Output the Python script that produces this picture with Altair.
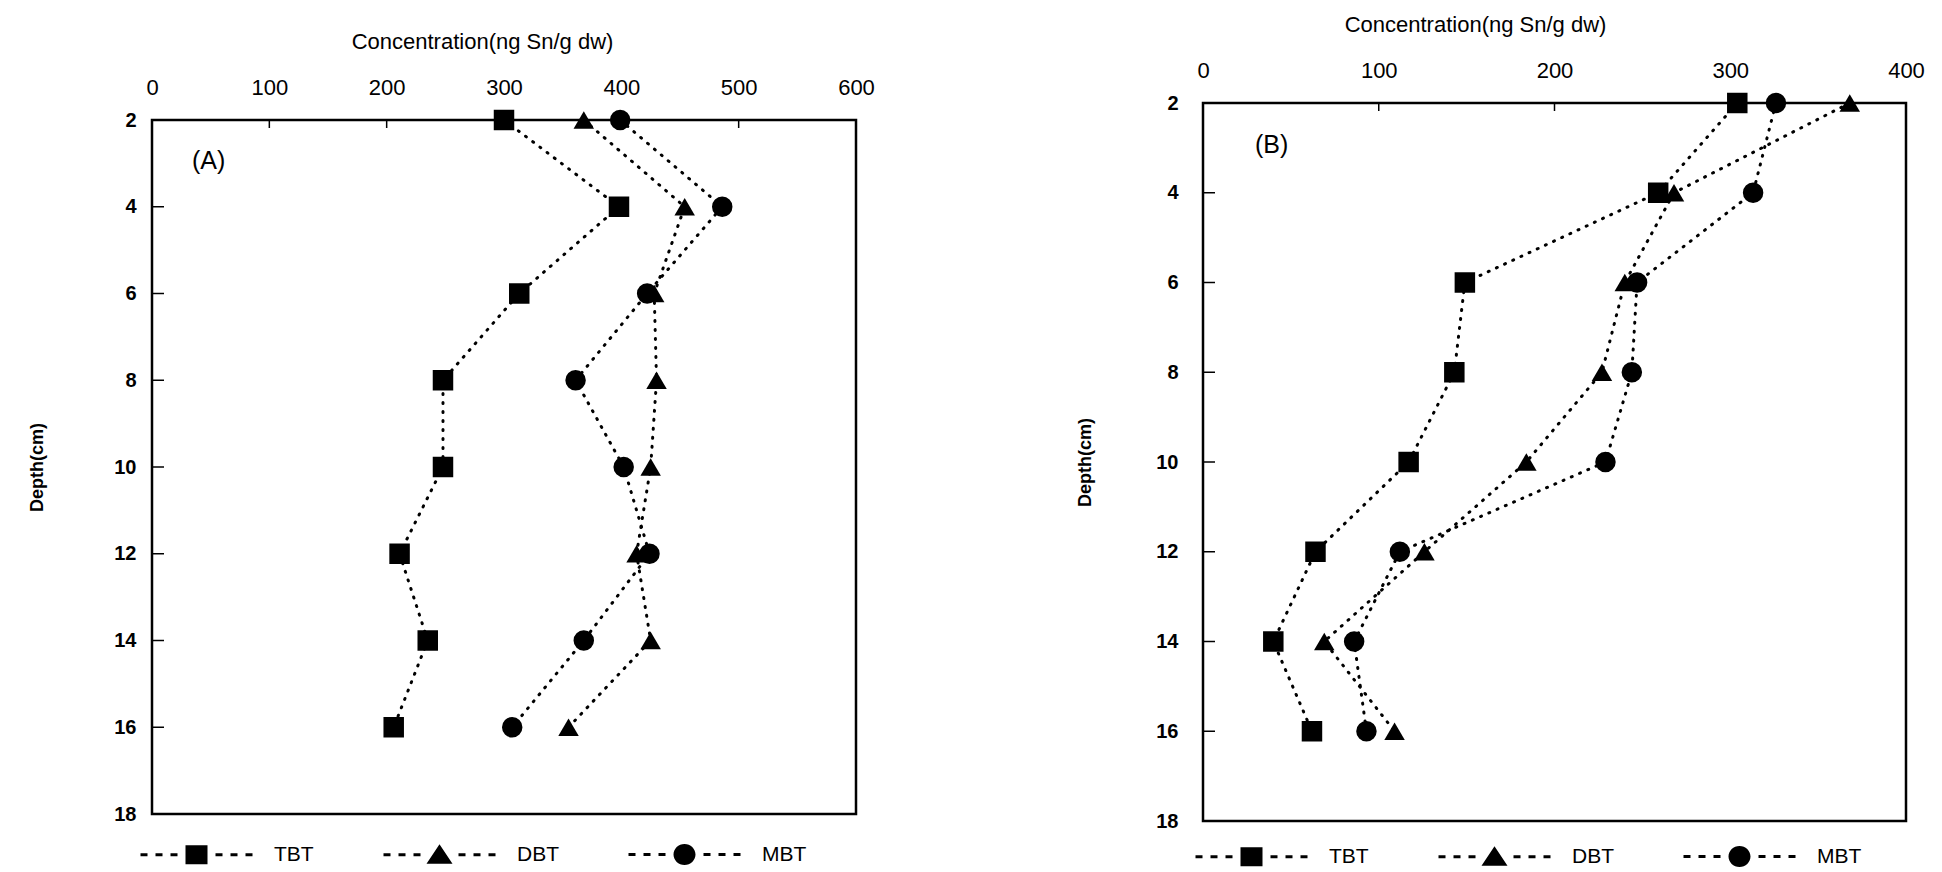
import altair as alt
import pandas as pd

# ---------------- data ----------------
depths = [2, 4, 6, 8, 10, 12, 14, 16]
series_names = ["TBT", "DBT", "MBT"]

a_tbt = [300, 398, 313, 248, 248, 211, 235, 206]
a_dbt = [368, 454, 428, 430, 425, 413, 425, 355]
a_mbt = [399, 486, 422, 361, 402, 424, 368, 307]

b_tbt = [304, 259, 149, 143, 117, 64, 40, 62]
b_dbt = [368, 268, 240, 227, 184, 126, 69, 109]
b_mbt = [326, 313, 247, 244, 229, 112, 86, 93]

depth_ticks = [2, 4, 6, 8, 10, 12, 14, 16, 18]
a_conc_ticks = [0, 100, 200, 300, 400, 500, 600]
b_conc_ticks = [0, 100, 200, 300, 400]
panel_labels = ["(A)", "(B)"]
x_title = "Concentration(ng Sn/g dw)"
y_title = "Depth(cm)"

FONT = "Liberation Sans"


def long_df(tbt, dbt, mbt):
    rows = []
    for name, vals in zip(series_names, [tbt, dbt, mbt]):
        for d, v in zip(depths, vals):
            rows.append({"series": name, "depth": d, "conc": v})
    return pd.DataFrame(rows)


# legend symbols: dashes - marker - dashes (custom paths, unit coords)
def rect(x0, x1, t=0.15):
    return f"M{x0},{-t}H{x1}V{t}H{x0}Z"

dash_left = [(-5.6, -4.9), (-4.1, -3.4), (-2.6, -1.9)]
dash_right = [(1.9, 2.6), (3.4, 4.1), (4.9, 5.6)]
dashes = "".join(rect(a, b) for a, b in dash_left + dash_right)
sym_square = "M-1.1,-0.95H1.1V0.95H-1.1Z"
sym_tri = "M0,-1.05L1.3,0.9L-1.3,0.9Z"
sym_circle = "M1.1,0A1.1,1.05 0 1,1 -1.1,0A1.1,1.05 0 1,1 1.1,0Z"
legend_shapes = [dashes + sym_square, dashes + sym_tri, dashes + sym_circle]


def panel(df, xticks, w, h, top_off, label, lab_x, lab_y, leg_x, leg_off,
          ylab_pad, ytitle_pad, title_x):
    xmax = xticks[-1]
    xscale = alt.Scale(domain=[xticks[0], xmax], nice=False, zero=True)
    yscale = alt.Scale(domain=[depth_ticks[0], depth_ticks[-1]], range=[top_off, top_off + h],
                       nice=False, zero=False)
    axis_kw = dict(
        orient="top", values=xticks, title=x_title, ticks=False, domain=False, grid=False,
        labelFontSize=22, labelPadding=21, titleFontSize=22, titleFontWeight="normal",
        titlePadding=23, labelColor="black", titleColor="black", labelFont=FONT, titleFont=FONT,
        labelFlush=False, titleX=title_x, titleAlign="center",
    )
    if top_off > 0:
        axis_kw["offset"] = -top_off
    xaxis = alt.Axis(**axis_kw)
    yaxis = alt.Axis(
        values=depth_ticks, title=y_title, ticks=False, domain=False, grid=False,
        labelFontSize=20, labelFontWeight="bold", labelPadding=ylab_pad,
        titleFontSize=18, titleFontWeight="bold", titlePadding=ytitle_pad,
        labelColor="black", titleColor="black", labelFont=FONT, titleFont=FONT,
        labelFlush=False,
    )

    def X(field):
        return alt.X(field, scale=xscale, axis=xaxis)

    def Y(field):
        return alt.Y(field, scale=yscale, axis=yaxis)

    frame_df = pd.DataFrame({"x0": [xticks[0]], "x1": [xmax],
                             "y0": [depth_ticks[0]], "y1": [depth_ticks[-1]]})
    frame = alt.Chart(frame_df).mark_rect(
        fillOpacity=0, stroke="black", strokeWidth=2.5
    ).encode(x=X("x0:Q"), x2="x1:Q", y=Y("y0:Q"), y2="y1:Q")

    base = alt.Chart(df)
    lines = base.mark_line(
        color="black", strokeWidth=3, strokeDash=[1, 8], strokeCap="round"
    ).encode(
        x=X("conc:Q"), y=Y("depth:Q"), detail="series:N", order="depth:Q"
    )
    points = base.mark_point(filled=True, color="black", opacity=1, size=420).encode(
        x=X("conc:Q"),
        y=Y("depth:Q"),
        shape=alt.Shape(
            "series:N",
            scale=alt.Scale(domain=series_names, range=["square", "triangle-up", "circle"]),
            legend=None,
        ),
    )
    legend_layer = base.mark_point(filled=True, color="black", opacity=0, size=10).encode(
        x=X("conc:Q"),
        y=Y("depth:Q"),
        shape=alt.Shape(
            "series:N",
            scale=alt.Scale(domain=series_names, range=legend_shapes),
            legend=alt.Legend(
                orient="none", legendX=leg_x, legendY=top_off + h + leg_off,
                direction="horizontal",
                title=None, symbolSize=400, labelFontSize=21, labelFont=FONT,
                labelColor="black", labelOffset=67, columnPadding=69,
                symbolStrokeWidth=0, symbolFillColor="black", symbolOpacity=1,
            ),
        ),
    )
    xt = pd.DataFrame({"v": xticks[1:-1]})
    yt = pd.DataFrame({"v": depth_ticks[1:-1]})
    xtick_rules = alt.Chart(xt).mark_rule(color="black", strokeWidth=1.5).encode(
        x=X("v:Q"), y=alt.value(top_off), y2=alt.value(top_off + 8)
    )
    ytick_rules = alt.Chart(yt).mark_rule(color="black", strokeWidth=1.5).encode(
        y=Y("v:Q"), x=alt.value(0), x2=alt.value(12)
    )
    lab = alt.Chart(pd.DataFrame({"t": [label]})).mark_text(
        align="left", baseline="middle", fontSize=25, font=FONT, color="black"
    ).encode(x=alt.value(lab_x), y=alt.value(top_off + lab_y), text="t:N")

    return alt.layer(
        frame, xtick_rules, ytick_rules, lines, points, legend_layer, lab
    ).resolve_scale(shape="independent").properties(width=w, height=h + top_off)


df_a = long_df(a_tbt, a_dbt, a_mbt)
df_b = long_df(b_tbt, b_dbt, b_mbt)

pa = panel(df_a, a_conc_ticks, 704, 694, 17, panel_labels[0], 40, 41, 34, 30, 16, 67, 330)
pb = panel(df_b, b_conc_ticks, 703, 718, 0, panel_labels[1], 52, 42, 38, 25, 25, 61, 272)

chart = alt.hconcat(pa, pb, spacing=201).properties(
    padding={"left": 20, "top": 5, "right": 0, "bottom": 0}
).configure(font=FONT).configure_view(
    stroke="transparent", strokeWidth=0
).resolve_scale(shape="independent")

chart.save("out.html", embed_options={"renderer": "svg", "actions": False})
